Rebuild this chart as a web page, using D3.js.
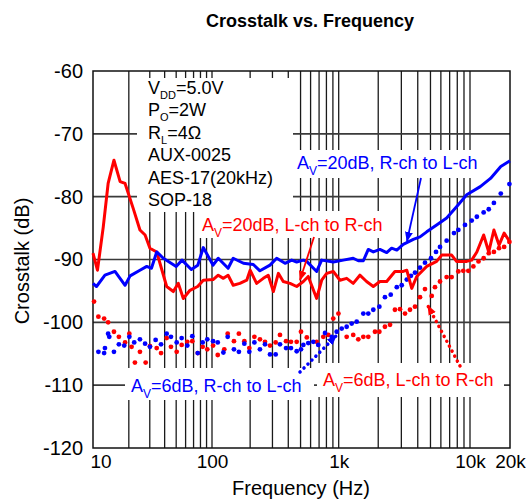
<!DOCTYPE html>
<html><head><meta charset="utf-8">
<script src="https://cdn.jsdelivr.net/npm/d3@7"></script>
<style>
body{margin:0;background:#fff}
svg{display:block}
text{font-family:"Liberation Sans",Arial,Helvetica,sans-serif;}
</style>
</head><body>
<svg id="c" width="526" height="502"></svg>
<script>
// ---------- data ----------
const freqTickValues = [10, 100, 1000, 10000, 20000];
const freqTickLabels = ["10", "100", "1k", "10k", "20k"];
const dbTickValues = [-120, -110, -100, -90, -80, -70, -60];
const dbTickLabels = ["-120", "-110", "-100", "-90", "-80", "-70", "-60"];
const gridFreqs = [20,30,40,50,60,70,80,90,100,200,300,400,500,600,700,800,900,
                   1000,2000,3000,4000,5000,6000,7000,8000,9000,10000];

// A_V=20dB, R-ch to L-ch (blue solid)
const blue20 = [[10,-93.8],[10.7,-94.3],[12.6,-92.5],[15.3,-91.9],[18.6,-94.1],[20.5,-92.6],[24.8,-91.7],[28.3,-91.1],[31,-91.4],[34.3,-88.8],[39,-89.8],[50,-91.1],[56,-90.1],[67,-91.6],[76,-90.9],[84.5,-88.1],[102,-90.9],[112,-89.8],[134,-91.4],[147,-89.8],[177,-90.6],[212,-90.8],[239,-91.8],[287,-90.9],[324,-89.8],[377,-90.6],[426,-90.1],[466,-90.4],[526,-90.1],[559,-90.3],[670,-91.9],[734,-90.1],[906,-90.4],[1084,-90.1],[1290,-89.8],[1410,-90.2],[1540,-90.2],[1680,-88.4],[1835,-88.8],[2060,-88.4],[2320,-88.9],[2530,-88.2],[2770,-88.5],[3100,-87.6],[3390,-87.2],[3700,-86.8],[4160,-86.4],[4680,-85.6],[5570,-84.5],[6640,-83.4],[7900,-81.6],[9440,-79.7],[11950,-78.4],[14270,-77.1],[17050,-75.2],[20000,-74.3]];

// A_V=20dB, L-ch to R-ch (red solid)
const red20 = [[10,-89.0],[10.9,-91.7],[12.2,-84.8],[13.4,-77.9],[15.0,-74.2],[16.9,-77.6],[18.6,-77.9],[21.8,-81.9],[24.8,-85.3],[27.4,-86.1],[30.1,-88.2],[34.3,-88.8],[41.6,-94.3],[47.3,-95.1],[52.1,-93.8],[57.4,-96.2],[65.3,-94.9],[75.8,-94.3],[84.5,-93.3],[102,-93.2],[112,-92.5],[123,-93.0],[134,-92.5],[147,-94.1],[166,-93.8],[188,-93.3],[200,-91.7],[225,-93.8],[254,-93.0],[278,-92.5],[305,-95.1],[334,-92.2],[365,-93.5],[413,-93.8],[466,-94.3],[526,-93.5],[575,-92.7],[670,-96.2],[734,-93.3],[804,-92.2],[906,-91.9],[1023,-93.3],[1150,-93.0],[1290,-93.8],[1450,-92.5],[1630,-93.5],[1835,-94.3],[2060,-93.5],[2320,-93.5],[2680,-91.9],[3100,-91.9],[3300,-91.7],[3600,-94.6],[3930,-92.7],[4680,-91.1],[5570,-90.3],[6090,-89.3],[7250,-89.3],[7900,-90.3],[9440,-90.3],[10300,-90.1],[11260,-88.8],[12670,-86.1],[13840,-88.8],[15130,-85.3],[16540,-87.7],[18070,-85.8],[20000,-87.2]];

// A_V=6dB, R-ch to L-ch (blue dots)
const blue6 = [[11.1,-104.7],[12.4,-104.9],[12.6,-104.1],[13.4,-101.8],[13.7,-102.3],[15.0,-104.7],[16.5,-103.5],[18.3,-103.7],[20.2,-102.3],[22.2,-103.2],[24.8,-102.7],[27.4,-103.4],[30.1,-103.9],[33.6,-102.8],[37.3,-103.5],[41.6,-101.8],[45.2,-102.3],[50.5,-103.2],[55.6,-102.5],[62.0,-103.7],[68.3,-102.2],[75.9,-104.9],[83.5,-103.2],[91.3,-102.7],[102,-103.0],[111,-103.2],[123,-104.8],[133,-102.3],[149,-104.3],[163,-104.7],[180,-103.4],[197,-104.7],[216,-103.2],[239,-104.3],[262,-103.5],[287,-105.1],[318,-105.1],[344,-103.5],[384,-104.1],[420,-104.1],[466,-104.6],[504,-104.3],[526,-103.6],[575,-103.3],[630,-103.1],[690,-103.6],[780,-101.7],[881,-102.3],[964,-101.5],[1054,-101.0],[1150,-100.7],[1256,-100.2],[1371,-99.9],[1540,-98.6],[1680,-98.6],[1835,-98.0],[2040,-97.5],[2250,-96.0],[2490,-95.6],[2770,-94.4],[3020,-94.1],[3300,-93.2],[3550,-92.6],[3810,-92.1],[4160,-91.3],[4540,-90.5],[5050,-89.8],[5510,-88.8],[5910,-88.0],[6640,-87.0],[7550,-85.8],[8150,-85.3],[9160,-84.5],[10300,-83.8],[11260,-83.2],[12670,-82.5],[13840,-82.0],[15130,-81.0],[17050,-79.5],[19800,-78.0]];

// A_V=6dB, L-ch to R-ch (red dots)
const red6 = [[10.2,-96.7],[11.1,-99.1],[12.4,-99.4],[13.4,-100.0],[15.0,-101.5],[16.5,-102.3],[18.6,-103.2],[20.2,-101.8],[21.1,-103.9],[22.5,-106.4],[24.8,-104.7],[27.7,-106.4],[30.1,-103.8],[34.3,-104.1],[37.3,-104.9],[41.6,-102.5],[45.2,-103.9],[50.5,-104.7],[55.6,-103.6],[62.0,-103.1],[68.3,-103.0],[75.9,-104.9],[83.5,-103.9],[91.3,-104.3],[102,-103.7],[111,-105.2],[125,-104.3],[133,-101.8],[149,-103.0],[163,-101.8],[180,-103.0],[197,-104.1],[216,-102.3],[239,-102.7],[262,-103.1],[287,-103.7],[318,-103.2],[344,-102.0],[384,-103.0],[420,-103.1],[466,-103.1],[504,-101.5],[560,-102.4],[670,-103.1],[756,-102.3],[828,-102.0],[906,-99.4],[995,-98.6],[1150,-102.3],[1290,-102.0],[1410,-102.7],[1540,-102.3],[1680,-102.3],[1890,-101.5],[2040,-101.5],[2250,-100.7],[2460,-100.4],[2680,-98.0],[2930,-97.9],[3200,-98.6],[3490,-98.0],[3810,-97.5],[4160,-96.0],[4540,-94.7],[5110,-95.8],[5410,-94.4],[5910,-93.5],[6640,-92.8],[7250,-92.8],[8150,-91.9],[8890,-91.8],[9710,-91.8],[10600,-91.1],[11590,-90.3],[12670,-89.8],[13840,-89.0],[15130,-88.8],[16540,-88.2],[18070,-88.0],[19800,-87.2]];

const conditionLines = [["V","DD","=5.0V"],["P","O","=2W"],["R","L","=4Ω"],["AUX-0025"],["AES-17(20kHz)"],["SOP-18"]];
const titleText = "Crosstalk vs. Frequency";
const xTitle = "Frequency (Hz)";
const yTitle = "Crosstalk (dB)";

// ---------- drawing ----------
const RED = "#ff0000", BLUE = "#0000ff";
const svg = d3.select("#c");
const x = d3.scaleLog().domain([10, 100, 1000, 10000, 20000]).range([93, 212, 338.7, 470, 510]);
const y = d3.scaleLinear().domain([-120, -60]).range([448, 71]);

const defs = svg.append("defs");
[["ahR", RED], ["ahB", BLUE]].forEach(([id, c]) => {
  defs.append("marker").attr("id", id).attr("viewBox", "0 0 10 10")
    .attr("refX", 9).attr("refY", 5).attr("markerWidth", 10).attr("markerHeight", 10)
    .attr("markerUnits", "userSpaceOnUse").attr("orient", "auto")
    .append("path").attr("d", "M0,1 L10,5 L0,9 Z").attr("fill", c);
});

// grid
svg.append("g").selectAll("line").data(gridFreqs).join("line")
  .attr("x1", d => x(d)).attr("x2", d => x(d))
  .attr("y1", y(-120)).attr("y2", y(-60))
  .attr("stroke", "#1a1a1a").attr("stroke-width", 1.3);
svg.append("g").selectAll("line").data(dbTickValues.slice(1, -1)).join("line")
  .attr("x1", x(10)).attr("x2", x(20000))
  .attr("y1", d => y(d)).attr("y2", d => y(d))
  .attr("stroke", "#3a3a3a").attr("stroke-width", 1.7);

// white label backgrounds
const boxes = [[137,78,293,212],[196,211,392,238],[293,150,488,178],[125,368,314,400],[317,363,504,397]];
svg.append("g").selectAll("rect").data(boxes).join("rect")
  .attr("x", d => d[0]).attr("y", d => d[1])
  .attr("width", d => d[2] - d[0]).attr("height", d => d[3] - d[1])
  .attr("fill", "#fff");

// frame
svg.append("rect").attr("x", x(10)).attr("y", y(-60))
  .attr("width", x(20000) - x(10)).attr("height", y(-120) - y(-60))
  .attr("fill", "none").attr("stroke", "#111").attr("stroke-width", 1.5);

// series
const line = d3.line().x(d => x(d[0])).y(d => y(d[1]));
svg.append("g").selectAll("circle").data(red6).join("circle")
  .attr("cx", d => x(d[0])).attr("cy", d => y(d[1])).attr("r", 2.4).attr("fill", RED);
svg.append("g").selectAll("circle").data(blue6).join("circle")
  .attr("cx", d => x(d[0])).attr("cy", d => y(d[1])).attr("r", 2.4).attr("fill", BLUE);
svg.append("path").datum(red20).attr("d", line).attr("fill", "none")
  .attr("stroke", RED).attr("stroke-width", 3).attr("stroke-linejoin", "round");
svg.append("path").datum(blue20).attr("d", line).attr("fill", "none")
  .attr("stroke", BLUE).attr("stroke-width", 3).attr("stroke-linejoin", "round");

// axes
const xAxis = svg.append("g").attr("transform", `translate(0,${y(-120)})`)
  .call(d3.axisBottom(x).tickValues(freqTickValues)
    .tickFormat((d, i) => freqTickLabels[i]).tickSize(0).tickPadding(7));
xAxis.select(".domain").remove();
xAxis.selectAll("text").attr("font-size", 19).attr("fill", "#000")
  .style("font-family", '"Liberation Sans",Arial,sans-serif');
xAxis.select(".tick text").attr("text-anchor", "start").attr("x", -3);

const yAxis = svg.append("g").attr("transform", `translate(${x(10)},0)`)
  .call(d3.axisLeft(y).tickValues(dbTickValues)
    .tickFormat((d, i) => dbTickLabels[i]).tickSize(0).tickPadding(10));
yAxis.select(".domain").remove();
yAxis.selectAll("text").attr("font-size", 20).attr("fill", "#000")
  .style("font-family", '"Liberation Sans",Arial,sans-serif');

// titles
svg.append("text").attr("x", 310).attr("y", 27).attr("text-anchor", "middle")
  .attr("font-size", 18).attr("font-weight", "bold").text(titleText);
svg.append("text").attr("x", 301).attr("y", 495).attr("text-anchor", "middle")
  .attr("font-size", 20).text(xTitle);
svg.append("text").attr("transform", "translate(29,261) rotate(-90)")
  .attr("text-anchor", "middle").attr("font-size", 20).text(yTitle);

// condition block
const cond = svg.append("g");
conditionLines.forEach((parts, i) => {
  const t = cond.append("text").attr("x", 148).attr("y", 93.5 + i * 22.5)
    .attr("font-size", 18).attr("fill", "#000");
  t.append("tspan").text(parts[0]);
  if (parts.length > 1) {
    t.append("tspan").attr("font-size", 11).attr("dy", 5).text(parts[1]);
    t.append("tspan").attr("dy", -5).text(parts[2]);
  }
});

// series labels
function label(px, py, main, sub, rest, color) {
  const t = svg.append("text").attr("x", px).attr("y", py).attr("font-size", 18).attr("fill", color);
  t.append("tspan").text(main);
  t.append("tspan").attr("font-size", 12).attr("dy", 6).text(sub);
  t.append("tspan").attr("dy", -6).text(rest);
}
label(202, 231, "A", "V", "=20dB, L-ch to R-ch", RED);
label(297, 168.5, "A", "V", "=20dB, R-ch to L-ch", BLUE);
label(131, 391.5, "A", "V", "=6dB, R-ch to L-ch", BLUE);
label(323, 386, "A", "V", "=6dB, L-ch to R-ch", RED);

// arrows
svg.append("line").attr("x1", 314).attr("y1", 237).attr("x2", 300).attr("y2", 280)
  .attr("stroke", RED).attr("stroke-width", 1.8).attr("marker-end", "url(#ahR)");
svg.append("line").attr("x1", 421).attr("y1", 178).attr("x2", 407).attr("y2", 241)
  .attr("stroke", BLUE).attr("stroke-width", 1.8).attr("marker-end", "url(#ahB)");
svg.append("line").attr("x1", 300).attr("y1", 372).attr("x2", 336).attr("y2", 336)
  .attr("stroke", BLUE).attr("stroke-width", 3.5).attr("stroke-linecap", "round")
  .attr("stroke-dasharray", "0.1,5.5").attr("marker-end", "url(#ahB)");
svg.append("line").attr("x1", 460).attr("y1", 366).attr("x2", 428).attr("y2", 306)
  .attr("stroke", RED).attr("stroke-width", 3.5).attr("stroke-linecap", "round")
  .attr("stroke-dasharray", "0.1,5.5").attr("marker-end", "url(#ahR)");
</script>
</body></html>
